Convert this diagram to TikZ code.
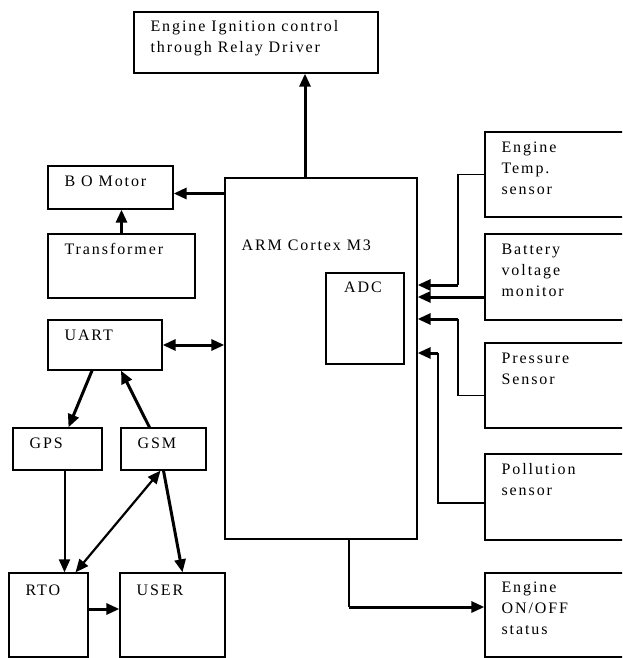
\documentclass[tikz,border=0pt]{standalone}
\usepackage{fontspec}
\setmainfont[LetterSpace=12]{Liberation Serif}
\usetikzlibrary{arrows.meta,positioning,calc}

\begin{document}
\begin{tikzpicture}[x=1pt, y=-1pt,
    blk/.style={rectangle, draw, line width=1.3pt, inner sep=0pt},
    txt/.style={anchor=north west, inner sep=0pt, xshift=17pt, yshift=-10pt, align=left, font=\fontsize{16}{21}\selectfont},
    arr/.style={-{Triangle[length=13pt, width=11pt]}, line width=3pt},
    dblarr/.style={{Triangle[length=13pt, width=11pt]}-{Triangle[length=13pt, width=11pt]}, line width=3pt},
    wire/.style={line width=1.3pt}
]
\clip (0,0) rectangle (622,658);

% Controller
\node[blk, minimum width=192pt, minimum height=361pt, label={[txt, yshift=-52pt]north west:ARM Cortex M3}] (arm) at (321,358.5) {};
\node[blk, minimum width=78pt, minimum height=91pt, label={[txt, anchor=north, xshift=-19pt, yshift=1pt]north:ADC}] (adc) at (365,318.5) {};

% Top: ignition
\node[blk, minimum width=244pt, minimum height=61pt, label={[txt, yshift=1pt]north west:Engine Ignition control\\through Relay Driver}] (ign) at (256,42.5) {};

% Left side
\node[blk, minimum width=125pt, minimum height=43pt, label={[txt]north west:B O Motor}] (bo) at (110.5,187.5) {};
\node[blk, minimum width=147pt, minimum height=64pt, label={[txt]north west:Transformer}] (trans) at (121.5,266) {};
\node[blk, minimum width=114pt, minimum height=50pt, label={[txt]north west:UART}] (uart) at (105,345) {};
\node[blk, minimum width=89pt, minimum height=42pt, label={[txt]north west:GPS}] (gps) at (57.5,449) {};
\node[blk, minimum width=85pt, minimum height=42pt, label={[txt]north west:GSM}] (gsm) at (163.5,449) {};
\node[blk, minimum width=79pt, minimum height=84pt, label={[txt, yshift=-2pt]north west:RTO}] (rto) at (48.5,615) {};
\node[blk, minimum width=105pt, minimum height=84pt, label={[txt, yshift=-2pt]north west:USER}] (user) at (172.5,615) {};

% Right side: sensors
\node[blk, minimum width=155pt, minimum height=85pt, label={[txt]north west:Engine\\Temp.\\sensor}] (temp) at (562.5,174.5) {};
\node[blk, minimum width=155pt, minimum height=86pt, label={[txt]north west:Battery\\voltage\\monitor}] (batt) at (562.5,277) {};
\node[blk, minimum width=155pt, minimum height=85pt, label={[txt]north west:Pressure\\Sensor}] (press) at (562.5,385.5) {};
\node[blk, minimum width=155pt, minimum height=86pt, label={[txt]north west:Pollution\\sensor}] (poll) at (562.5,497) {};
\node[blk, minimum width=155pt, minimum height=84pt, label={[txt, yshift=1pt]north west:Engine\\ON/OFF\\status}] (onoff) at (562.5,615) {};

% Controller outputs
\coordinate (ig) at ([xshift=-16pt]arm.north);
\draw[arr] (ig) -- (ig |- ign.south);
\draw[arr] ([yshift=-6pt]bo.east -| arm.west) -- ([yshift=-6pt]bo.east);
\draw[arr] (trans.north) -- (trans.north |- bo.south);
\draw[dblarr] (uart.east) -- (uart.east -| arm.west);

% Communication
\draw[arr] ([xshift=-13pt]uart.south) -- ([xshift=11pt]gps.north);
\draw[arr] ([xshift=-14pt]gsm.north) -- ([xshift=16pt]uart.south);
\coordinate (gp) at ([xshift=7pt]gps.south);
\draw[arr, line width=2pt] (gp) -- (gp |- rto.north);
\draw[dblarr, line width=2.2pt] ([xshift=-3pt]gsm.south) -- ([xshift=27pt]rto.north);
\draw[arr] (gsm.south) -- ([xshift=10pt]user.north);
\draw[arr] ([yshift=6pt]rto.east) -- ([yshift=6pt]user.west);

% Sensor inputs
\coordinate (tk) at (458,285);
\draw[wire] (temp.west) -| (tk);
\draw[arr] (tk) -- (tk -| arm.east);
\draw[arr] ([yshift=-20pt]batt.west) -- ([yshift=-20pt]batt.west -| arm.east);
\coordinate (pk) at (458,319);
\draw[wire] ([yshift=-10pt]press.west) -| (pk);
\draw[arr] (pk) -- (pk -| arm.east);
\coordinate (lk) at (438,353);
\draw[wire] ([yshift=-6pt]poll.west) -| (lk);
\draw[arr] (lk) -- (lk -| arm.east);

% Engine status
\coordinate (ac) at ([xshift=28pt]arm.south);
\coordinate (oc) at ([yshift=8pt]onoff.west);
\draw[wire] (ac) -- (ac |- oc);
\draw[arr] (ac |- oc) -- (oc);

\end{tikzpicture}
\end{document}
